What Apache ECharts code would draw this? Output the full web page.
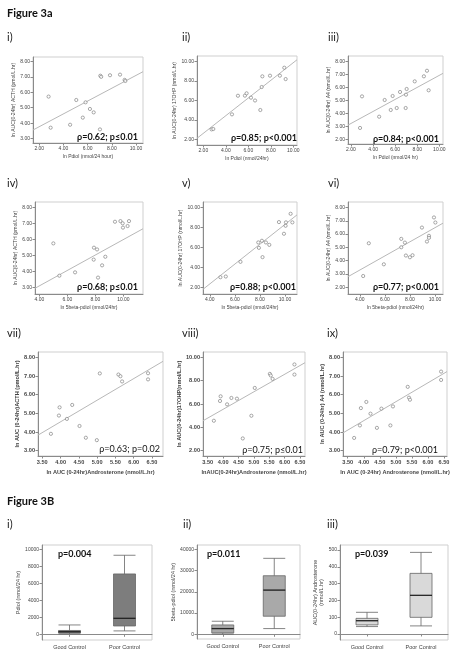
<!DOCTYPE html>
<html><head><meta charset="utf-8">
<script src="https://cdn.jsdelivr.net/npm/echarts@6/dist/echarts.min.js"></script>
<style>html,body{margin:0;padding:0;background:#fff}#c{width:456px;height:657px}</style>
</head><body><div id="c"></div>
<script>
// ---------------- DATA ----------------
// Row 1: ln Pdiol (x) vs ln AUC
const pdiolI = [2.77, 2.94, 4.55, 5.06, 5.6, 5.83, 6.19, 6.5, 7.02, 7.05, 7.12, 7.85, 8.68, 9.06, 9.12];
const acthI  = [5.72, 3.71, 3.9, 5.5, 4.36, 5.35, 4.92, 4.7, 3.6, 7.07, 7.0, 7.1, 7.14, 6.8, 6.73];
const pdiolII = [2.74, 2.89, 4.55, 5.08, 5.70, 5.85, 6.24, 6.60, 7.07, 7.19, 7.25, 7.93, 8.81, 9.20, 9.32];
const ohpII   = [3.02, 3.06, 4.57, 6.49, 6.5, 6.74, 6.29, 6.0, 5.02, 7.39, 8.49, 8.56, 8.56, 9.38, 8.21];
const pdiolIII = [2.82, 3.0, 4.55, 5.05, 5.6, 5.77, 6.14, 6.44, 6.95, 6.98, 7.04, 7.77, 8.6, 8.88, 9.03];
const a4III    = [2.88, 5.32, 3.75, 5.04, 4.27, 5.35, 4.42, 5.66, 4.42, 5.45, 5.89, 6.48, 6.87, 7.3, 5.79];
// Row 2: ln 5beta-pdiol (x)
const bpdIV = [5.0, 5.43, 6.55, 7.88, 7.9, 8.12, 8.19, 8.48, 8.71, 9.4, 9.79, 9.95, 9.97, 10.3, 10.4];
const acthIV = [5.76, 3.73, 3.94, 4.74, 5.49, 5.38, 3.61, 4.38, 4.92, 7.12, 7.16, 7.02, 6.75, 6.85, 7.16];
const bpdV = [4.85, 5.28, 6.45, 7.87, 7.92, 8.16, 8.21, 8.48, 8.75, 9.52, 9.92, 10.05, 10.08, 10.45, 10.59];
const ohpV = [3.01, 3.08, 4.55, 6.49, 5.95, 6.66, 5.02, 6.49, 6.25, 8.53, 7.36, 8.16, 8.5, 9.36, 8.5];
const bpdVI = [4.27, 4.72, 5.92, 7.31, 7.31, 7.6, 7.68, 8.0, 8.21, 8.96, 9.36, 9.52, 9.52, 9.92, 10.03];
const a4VI  = [2.85, 5.31, 3.73, 5.64, 5.01, 5.36, 4.39, 4.26, 4.41, 6.49, 5.44, 5.87, 5.72, 7.25, 6.87];
// Row 3: ln AUC androsterone (x)
const andVII = [3.736, 3.955, 3.973, 4.173, 4.318, 4.518, 4.691, 4.991, 5.073, 5.582, 5.636, 5.682, 6.391, 6.391];
const acthVII = [3.9, 4.88, 5.32, 4.7, 5.45, 4.32, 3.69, 3.56, 7.14, 7.08, 6.99, 6.71, 7.15, 6.82];
const andVIII = [3.70, 3.90, 3.92, 4.13, 4.27, 4.45, 4.64, 4.92, 5.03, 5.52, 5.55, 5.61, 6.32, 6.32];
const ohpVIII = [4.56, 6.26, 6.66, 5.97, 6.52, 6.46, 3.04, 4.99, 7.38, 8.59, 8.45, 8.16, 9.4, 8.53];
const andIX = [3.70, 3.88, 3.91, 4.08, 4.21, 4.41, 4.55, 4.83, 4.91, 5.37, 5.41, 5.44, 6.41, 6.41];
const a4IX  = [3.68, 4.35, 5.28, 5.61, 4.98, 4.22, 5.25, 4.35, 5.37, 6.42, 5.84, 5.73, 7.24, 6.79];
// Fit lines: [x, y] endpoints
const fitI    = [[1.48, 3.56], [10.58, 7.33]];
const fitII   = [[1.44, 2.1], [10.33, 10.2]];
const fitIII  = [[1.73, 3.1], [10.33, 7.1]];
const fitIV   = [[3.69, 2.94], [11.4, 6.68]];
const fitV    = [[3.46, 1.8], [10.96, 9.25]];
const fitVI   = [[3.06, 2.8], [10.64, 6.82]];
const fitVII  = [[3.383, 3.83], [6.8, 7.79]];
const fitVIII = [[3.347, 4.56], [6.663, 9.55]];
const fitIX   = [[3.353, 3.95], [6.594, 7.24]];
// Tick labels
const ticksPdiol = [2, 4, 6, 8, 10];
const ticks5b = [4, 6, 8, 10];
const ticksAndro = [3.5, 4, 4.5, 5, 5.5, 6, 6.5];
const ticksY38 = [3, 4, 5, 6, 7, 8];
const ticksY210 = [2, 4, 6, 8, 10];
const ticksY28 = [2, 3, 4, 5, 6, 7, 8];
// Box plots: [min, Q1, median, Q3, max]
const groups = ['Good Control', 'Poor Control'];
const boxPdiol = [[50, 150, 300, 450, 1100], [400, 980, 1880, 7100, 9300]];
const box5bPdiol = [[100, 630, 2680, 4400, 6140], [2680, 8500, 20790, 27560, 35750]];
const boxAndro = [[44, 54, 79, 93, 129], [48, 99, 230, 361, 486]];
const ticksBox1 = [0, 2000, 4000, 6000, 8000, 10000];
const ticksBox2 = [0, 10000, 20000, 30000, 40000];
const ticksBox3 = [0, 100, 200, 300, 400, 500];
// Texts
const statTexts = ['ρ=0.62; p≤0.01', 'ρ=0.85; p<0.001', 'ρ=0.84; p<0.001', 'ρ=0.68; p≤0.01', 'ρ=0.88; p<0.001', 'ρ=0.77; p<0.001', 'ρ=0.63; p=0.02', 'ρ=0.75; p≤0.01', 'ρ=0.79; p<0.001'];
const boxP = ['p=0.004', 'p=0.011', 'p=0.039'];
const panelLabels = ['i)', 'ii)', 'iii)', 'iv)', 'v)', 'vi)', 'vii)', 'viii)', 'ix)'];
const boxLabels = ['i)', 'ii)', 'iii)'];

// ---------------- LAYOUT / STYLE ----------------
const AX = '#8a8a8a', TXT = '#444', F = 'Liberation Sans', FB = 'Lato';
const scatters = [
  {g:[33,57,110,86], x:[1.48,10.58], y:[2.72,8.28], xt:ticksPdiol, yt:ticksY38, xn:'ln Pdiol (nmol/24 hour)', yn:'ln AUC(0-24hr) ACTH (pmol/L.hr)', px:pdiolI, py:acthI, fit:fitI, gapY:15},
  {g:[197,56,100,89], x:[1.44,10.33], y:[1.41,10.59], xt:ticksPdiol, yt:ticksY210, xn:'ln Pdiol (nmol/24hr)', yn:'ln AUC(0-24hr) 17OHP (nmol/L.hr)', px:pdiolII, py:ohpII, fit:fitII, gapY:17},
  {g:[348,56,95,88], x:[1.73,10.33], y:[1.64,8.44], xt:ticksPdiol, yt:ticksY28, xn:'ln Pdiol (nmol/24 hr)', yn:'ln AUC(0-24hr) A4 (nmol/L.hr)', px:pdiolIII, py:a4III, fit:fitIII, gapY:15},
  {g:[35,202,108,92], x:[3.69,11.4], y:[2.58,8.36], xt:ticks5b, yt:ticksY38, xn:'ln 5beta-pdiol (nmol/24hr)', yn:'ln AUC(0-24hr) ACTH (pmol/L.hr)', px:bpdIV, py:acthIV, fit:fitIV, gapY:15},
  {g:[203,202,94,92], x:[3.46,10.96], y:[1.33,10.54], xt:ticks5b, yt:ticksY210, xn:'ln 5beta-pdiol (nmol/24hr)', yn:'ln AUC(0-24hr) 17OHP (nmol/L.hr)', px:bpdV, py:ohpV, fit:fitV, gapY:17},
  {g:[348,202,95,92], x:[3.06,10.64], y:[1.50,8.41], xt:ticks5b, yt:ticksY28, xn:'ln 5beta-pdiol (nmol/24hr)', yn:'ln AUC(0-24hr) A4 (nmol/L.hr)', px:bpdVI, py:a4VI, fit:fitVI, gapY:15},
  {g:[38,352,125,104], x:[3.383,6.8], y:[2.71,8.29], xt:ticksAndro, yt:ticksY38, xn:'ln AUC (0-24hr)Androsterone (nmol/L.hr)', yn:'ln AUC (0-24hr)ACTH (pmol/L.hr)', px:andVII, py:acthVII, fit:fitVII, gapY:17, big:true},
  {g:[203,352,102,104], x:[3.347,6.663], y:[1.53,10.47], xt:ticksAndro, yt:ticksY210, xn:'lnAUC(0-24hr)Androsterone (nmol/L.hr)', yn:'ln AUC(0-24hr)17OHP(nmol/L.hr)', px:andVIII, py:ohpVIII, fit:fitVIII, gapY:19, big:true},
  {g:[343,352,104,104], x:[3.353,6.594], y:[2.71,8.29], xt:ticksAndro, yt:ticksY38, xn:'ln AUC (0-24hr) Androsterone (nmol/L.hr)', yn:'ln AUC (0-24hr) A4 (nmol/L.hr)', px:andIX, py:a4IX, fit:fitIX, gapY:17, big:true}
];
const boxes = [
  {g:[42,545,110,95], y:[-670,10506], yt:ticksBox1, yn:'Pdiol (nmol/24 hr)', d:boxPdiol, fill:'#7d7d7d', gapY:19},
  {g:[197,545,103,94], y:[-2220,42030], yt:ticksBox2, yn:'5beta-pdiol (nmol/24 hr)', d:box5bPdiol, fill:'#a9a9a9', gapY:19},
  {g:[340,545,108,95], y:[-36,530], yt:ticksBox3, yn:'AUC(0-24hr) Androsterone\n(nmol/L.hr)', d:boxAndro, fill:'#d9d9d9', gapY:13}
];
const statPos = [[138,137],[297,138],[439,139],[138,287],[296,287],[439,287],[160,449],[303,450],[438,450]];
const labelPos = [[7,37],[182,37],[328,37],[7,183],[182,183],[328,183],[7,333],[182,333],[327,333]];
const boxLabelPos = [[7,524],[183,524],[327,524]];
const boxPPos = [[58,554],[207,554],[355,554]];

const grid = [], xAxis = [], yAxis = [], series = [], graphic = [];
function fmt2(v){ return v.toFixed(2); }
scatters.forEach((p, i) => {
  const fs = p.big ? 5.6 : 5;
  grid.push({left:p.g[0], top:p.g[1], width:p.g[2], height:p.g[3], show:true, borderColor:'#cfcfcf', borderWidth:1, containLabel:false});
  xAxis.push({type:'value', gridIndex:i, min:p.x[0], max:p.x[1],
    axisLine:{show:true, onZero:false, lineStyle:{color:AX, width:1}},
    axisTick:{show:true, length:2.5, customValues:p.xt, lineStyle:{color:AX}},
    axisLabel:{customValues:p.xt, formatter:fmt2, fontSize:fs, color:TXT, fontFamily:F, margin:3, fontWeight: p.big?'bold':'normal'},
    splitLine:{show:false},
    name:p.xn, nameLocation:'middle', nameGap:p.big?13:11, nameTextStyle:{fontSize:fs, color:TXT, fontFamily:F, fontWeight: p.big?'bold':'normal'}});
  yAxis.push({type:'value', gridIndex:i, min:p.y[0], max:p.y[1],
    axisLine:{show:true, onZero:false, lineStyle:{color:AX, width:1}},
    axisTick:{show:true, length:2.5, customValues:p.yt, lineStyle:{color:AX}},
    axisLabel:{customValues:p.yt, formatter:fmt2, fontSize:fs, color:TXT, fontFamily:F, margin:3, fontWeight: p.big?'bold':'normal'},
    splitLine:{show:false},
    name:p.yn, nameLocation:'middle', nameRotate:90, nameGap:p.gapY, nameTextStyle:{fontSize:fs, color:TXT, fontFamily:F, fontWeight: p.big?'bold':'normal'}});
  series.push({type:'line', xAxisIndex:i, yAxisIndex:i, data:p.fit, showSymbol:false, silent:true, clip:true,
    lineStyle:{color:'#b8b8b8', width:1}, z:1});
  series.push({type:'scatter', xAxisIndex:i, yAxisIndex:i, data:p.px.map((v,k)=>[v,p.py[k]]),
    symbol:'circle', symbolSize:3.2, itemStyle:{color:'#fff', borderColor:'#777', borderWidth:0.8}, z:3});
  graphic.push({type:'text', x:statPos[i][0], y:statPos[i][1],
    style:{text:statTexts[i], font:(p.big?'normal ':'bold ')+'9px '+FB, fill:'#111', textAlign:'right', textVerticalAlign:'middle'}});
  graphic.push({type:'text', x:labelPos[i][0], y:labelPos[i][1],
    style:{text:panelLabels[i], font:'11px '+FB, fill:'#222', textAlign:'left', textVerticalAlign:'middle'}});
});
boxes.forEach((b, j) => {
  const i = scatters.length + j;
  grid.push({left:b.g[0], top:b.g[1], width:b.g[2], height:b.g[3], show:true, borderColor:'#cfcfcf', borderWidth:1});
  xAxis.push({type:'category', gridIndex:i, data:groups, boundaryGap:true,
    axisLine:{show:true, lineStyle:{color:AX}}, axisTick:{show:true, alignWithLabel:true, length:2.5, lineStyle:{color:AX}},
    axisLabel:{fontSize:5.5, color:TXT, fontFamily:F, margin:4}, splitLine:{show:false}});
  yAxis.push({type:'value', gridIndex:i, min:b.y[0], max:b.y[1],
    axisLine:{show:true, onZero:false, lineStyle:{color:AX}},
    axisTick:{show:true, length:2.5, customValues:b.yt, lineStyle:{color:AX}},
    axisLabel:{customValues:b.yt, formatter:v=>String(v), fontSize:5, color:TXT, fontFamily:F, margin:3}, splitLine:{show:false},
    name:b.yn, nameLocation:'middle', nameRotate:90, nameGap:b.gapY, nameTextStyle:{fontSize:5.5, color:TXT, fontFamily:F, lineHeight:6}});
  series.push({type:'boxplot', xAxisIndex:i, yAxisIndex:i, data:b.d, boxWidth:[22,22],
    itemStyle:{color:b.fill, borderColor:'#666', borderWidth:0.8}});
  // median lines in black, positioned from the same data
  series.push({type:'scatter', xAxisIndex:i, yAxisIndex:i, silent:true, z:5,
    data:b.d.map((q,k)=>[k, q[2]]), symbol:'rect', symbolSize:[22,1.3], itemStyle:{color:'#111'}});
  graphic.push({type:'text', x:boxPPos[j][0], y:boxPPos[j][1],
    style:{text:boxP[j], font:'bold 9px '+FB, fill:'#111', textAlign:'left', textVerticalAlign:'middle'}});
  graphic.push({type:'text', x:boxLabelPos[j][0], y:boxLabelPos[j][1],
    style:{text:boxLabels[j], font:'11px '+FB, fill:'#222', textAlign:'left', textVerticalAlign:'middle'}});
});
graphic.push({type:'text', x:7, y:13, style:{text:'Figure 3a', font:'bold 11px '+FB, fill:'#111', textVerticalAlign:'middle'}});
graphic.push({type:'text', x:7, y:501, style:{text:'Figure 3B', font:'bold 11px '+FB, fill:'#111', textVerticalAlign:'middle'}});

const chart = echarts.init(document.getElementById('c'), null, {renderer:'canvas'});
chart.setOption({animation:false, backgroundColor:'#fff', grid, xAxis, yAxis, series, graphic});
</script></body></html>
